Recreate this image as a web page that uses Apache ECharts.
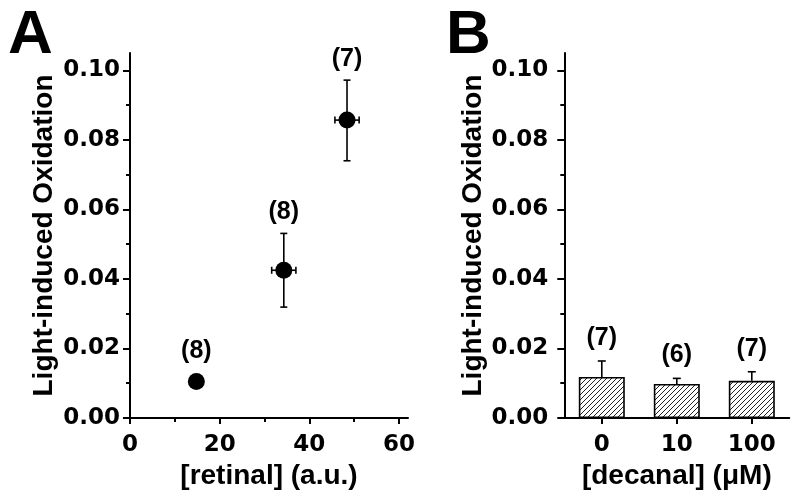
<!DOCTYPE html>
<html><head><meta charset="utf-8">
<script src="https://cdn.jsdelivr.net/npm/echarts@6/dist/echarts.min.js"></script>
<style>html,body{margin:0;padding:0;background:#fff}#c{width:800px;height:495px}</style>
</head><body><div id="c"></div>
<script>
// ---- Panel A data ----
const retinalX = [14.8, 34.3, 48.4];
const retinalXErr = [0, 2.7, 2.7];
const oxidationA = [0.0105, 0.0425, 0.0857];
const oxidationAErrLow = [0, 0.0106, 0.0117];
const oxidationAErrHigh = [0, 0.0106, 0.0115];
const nA = ['(8)', '(8)', '(7)'];
// ---- Panel B data ----
const decanalCats = ['0', '10', '100'];
const oxidationB = [0.0118, 0.0098, 0.0107];
const oxidationBErr = [0.0046, 0.0016, 0.0026];
const nB = ['(7)', '(6)', '(7)'];
// ---- ticks ----
const yTicks = [0, 0.02, 0.04, 0.06, 0.08, 0.10];
const yMinorTicks = [0.01, 0.03, 0.05, 0.07, 0.09];
const xTicksA = [0, 20, 40, 60];
const xMinorTicksA = [10, 30, 50];

const tickFont = {fontFamily: 'DejaVu Sans', fontWeight: 'bold', fontSize: 23, color: '#000'};
const nameFont = {fontFamily: 'Liberation Sans', fontWeight: 'bold', fontSize: 28, color: '#000'};
const nFontFamily = 'Liberation Sans';

// hatch pattern
const pat = document.createElement('canvas');
pat.width = 5; pat.height = 5;
(function(){
  const g = pat.getContext('2d');
  g.fillStyle = '#fff'; g.fillRect(0,0,5,5);
  g.strokeStyle = '#222'; g.lineWidth = 1;
  g.beginPath();
  g.moveTo(-1,6); g.lineTo(6,-1);
  g.moveTo(-1,1); g.lineTo(1,-1);
  g.moveTo(4,6); g.lineTo(6,4);
  g.stroke();
})();

function majorY(grid, margin, gap) {
  return {
    type: 'value', gridIndex: grid, min: 0, max: 0.105, position: 'left',
    axisLine: {show: true, lineStyle: {color: '#000', width: 2}},
    axisTick: {show: true, customValues: yTicks, length: 7, lineStyle: {color: '#000', width: 2}},
    axisLabel: {customValues: yTicks, margin: margin, formatter: v => v.toFixed(2), ...tickFont},
    splitLine: {show: false},
    name: 'Light-induced Oxidation', nameLocation: 'middle', nameGap: gap, nameTextStyle: nameFont
  };
}
function minorY(grid) {
  return {
    type: 'value', gridIndex: grid, min: 0, max: 0.105, position: 'left',
    axisLine: {show: false},
    axisTick: {show: true, customValues: yMinorTicks, length: 4, lineStyle: {color: '#000', width: 2}},
    axisLabel: {show: false}, splitLine: {show: false}
  };
}

const chart = echarts.init(document.getElementById('c'), null, {renderer: 'canvas'});
chart.setOption({
  animation: false,
  backgroundColor: '#fff',
  title: [
    {text: 'A', left: 3, top: 0, textStyle: {fontFamily: 'Liberation Sans', fontWeight: 'bold', fontSize: 62, color: '#000'}},
    {text: 'B', left: 441, top: 0, textStyle: {fontFamily: 'Liberation Sans', fontWeight: 'bold', fontSize: 62, color: '#000'}}
  ],
  grid: [
    {left: 130, top: 53, width: 278, height: 365},
    {left: 564.3, top: 53, width: 225, height: 365}
  ],
  xAxis: [
    {
      type: 'value', gridIndex: 0, min: 0, max: 62, position: 'bottom',
      axisLine: {show: true, lineStyle: {color: '#000', width: 2}},
      axisTick: {show: true, customValues: xTicksA, length: 6, lineStyle: {color: '#000', width: 2}},
      axisLabel: {customValues: xTicksA, margin: 16, ...tickFont},
      splitLine: {show: false},
      name: '[retinal] (a.u.)', nameLocation: 'middle', nameGap: 40, nameTextStyle: nameFont
    },
    {
      type: 'value', gridIndex: 0, min: 0, max: 62, position: 'bottom',
      axisLine: {show: false},
      axisTick: {show: true, customValues: xMinorTicksA, length: 4, lineStyle: {color: '#000', width: 2}},
      axisLabel: {show: false}, splitLine: {show: false}
    },
    {
      type: 'category', gridIndex: 1, data: decanalCats, position: 'bottom',
      axisLine: {show: true, lineStyle: {color: '#000', width: 2}},
      axisTick: {show: true, alignWithLabel: true, length: 6, lineStyle: {color: '#000', width: 2}},
      axisLabel: {margin: 16, ...tickFont},
      name: '[decanal] (\u03BCM)', nameLocation: 'middle', nameGap: 40, nameTextStyle: nameFont
    }
  ],
  yAxis: [majorY(0, 10, 72), minorY(0), majorY(1, 16, 76), minorY(1)],
  series: [
    {
      type: 'custom', xAxisIndex: 0, yAxisIndex: 0, z: 3,
      data: retinalX.map((x, i) => [x, oxidationA[i], retinalXErr[i], oxidationAErrLow[i], oxidationAErrHigh[i]]),
      renderItem: function (params, api) {
        const x = api.value(0), y = api.value(1), xe = api.value(2), lo = api.value(3), hi = api.value(4);
        const c = api.coord([x, y]);
        const children = [];
        const ls = {stroke: '#000', lineWidth: 1.6};
        const cap = 3.5;
        let topPx = c[1] - 30;
        if (hi > 0 || lo > 0) {
          const t = api.coord([x, y + hi]), b = api.coord([x, y - lo]);
          children.push({type: 'line', shape: {x1: c[0], y1: t[1], x2: c[0], y2: b[1]}, style: ls});
          children.push({type: 'line', shape: {x1: c[0]-cap, y1: t[1], x2: c[0]+cap, y2: t[1]}, style: ls});
          children.push({type: 'line', shape: {x1: c[0]-cap, y1: b[1], x2: c[0]+cap, y2: b[1]}, style: ls});
          topPx = t[1] - 21;
        }
        if (xe > 0) {
          const l = api.coord([x - xe, y]), r = api.coord([x + xe, y]);
          children.push({type: 'line', shape: {x1: l[0], y1: c[1], x2: r[0], y2: c[1]}, style: ls});
          children.push({type: 'line', shape: {x1: l[0], y1: c[1]-cap, x2: l[0], y2: c[1]+cap}, style: ls});
          children.push({type: 'line', shape: {x1: r[0], y1: c[1]-cap, x2: r[0], y2: c[1]+cap}, style: ls});
        }
        children.push({type: 'text', style: {text: nA[params.dataIndex], x: c[0], y: topPx, align: 'center', verticalAlign: 'middle',
          fontFamily: nFontFamily, fontWeight: 'bold', fontSize: 25, fill: '#000'}});
        return {type: 'group', children: children};
      }
    },
    {
      type: 'scatter', xAxisIndex: 0, yAxisIndex: 0, z: 4,
      symbol: 'circle', symbolSize: 17,
      itemStyle: {color: '#000', opacity: 1},
      emphasis: {disabled: true},
      data: retinalX.map((x, i) => [x, oxidationA[i]])
    },
    {
      type: 'bar', xAxisIndex: 2, yAxisIndex: 2, barWidth: 46, z: 2,
      itemStyle: {color: {image: pat, repeat: 'repeat'}, borderColor: '#000', borderWidth: 1.6},
      data: oxidationB
    },
    {
      type: 'custom', xAxisIndex: 2, yAxisIndex: 2, z: 3,
      data: oxidationB.map((v, i) => [i, v, oxidationBErr[i]]),
      renderItem: function (params, api) {
        const i = api.value(0), v = api.value(1), e = api.value(2);
        const b = api.coord([i, v]), t = api.coord([i, v + e]);
        const ls = {stroke: '#000', lineWidth: 1.6};
        const cap = 4;
        return {type: 'group', children: [
          {type: 'line', shape: {x1: b[0], y1: b[1], x2: t[0], y2: t[1]}, style: ls},
          {type: 'line', shape: {x1: t[0]-cap, y1: t[1], x2: t[0]+cap, y2: t[1]}, style: ls},
          {type: 'text', style: {text: nB[params.dataIndex], x: t[0], y: t[1] - 23, align: 'center', verticalAlign: 'middle',
            fontFamily: nFontFamily, fontWeight: 'bold', fontSize: 25, fill: '#000'}}
        ]};
      }
    }
  ]
});
</script>
</body></html>
